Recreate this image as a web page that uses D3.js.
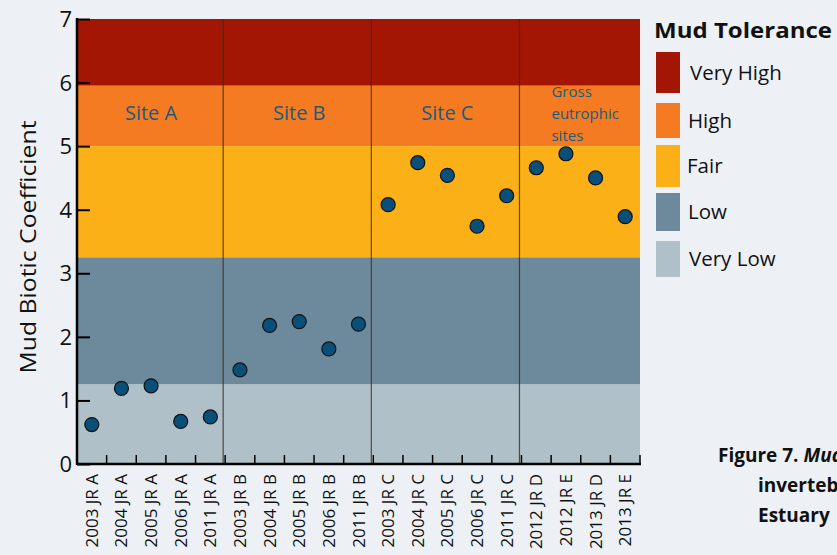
<!DOCTYPE html>
<html>
<head>
<meta charset="utf-8">
<script src="https://cdn.jsdelivr.net/npm/d3@7"></script>
<style>
  body { margin: 0; background: #edf1f5; overflow: hidden; }
  svg { display: block; font-family: "Open Sans", sans-serif; }
</style>
</head>
<body>
<div id="chart"></div>
<script>
const categories = ["2003 JR A", "2004 JR A", "2005 JR A", "2006 JR A", "2011 JR A",
                    "2003 JR B", "2004 JR B", "2005 JR B", "2006 JR B", "2011 JR B",
                    "2003 JR C", "2004 JR C", "2005 JR C", "2006 JR C", "2011 JR C",
                    "2012 JR D", "2012 JR E", "2013 JR D", "2013 JR E"];
const values = [0.62, 1.19, 1.23, 0.67, 0.74,
                1.48, 2.18, 2.24, 1.81, 2.2,
                4.08, 4.74, 4.54, 3.74, 4.22,
                4.66, 4.88, 4.5, 3.89];
const yTicks = [0, 1, 2, 3, 4, 5, 6, 7];
const bandNames = ["Very High", "High", "Fair", "Low", "Very Low"];
const bandLow = [5.95, 5, 3.25, 1.25, 0];
const bandHigh = [7, 5.95, 5, 3.25, 1.25];
const bandColors = ["#a31604", "#f47b22", "#fcb017", "#6d8a9c", "#afc0c8"];
const siteNames = ["Site A", "Site B", "Site C"];
const siteFirst = ["2003 JR A", "2003 JR B", "2003 JR C", "2012 JR D"];

const w = 837, h = 555;
const pLeft = 77, pRight = 640, pTop = 19, pBottom = 464;

const svg = d3.select("#chart").append("svg")
  .attr("width", w).attr("height", h);

const xScale = d3.scaleBand().domain(categories).range([pLeft, pRight]);
const yScale = d3.scaleLinear().domain([0, 7]).range([pBottom, pTop]);

// bands
svg.selectAll("rect.band")
  .data(bandNames)
  .enter()
  .append("rect")
  .attr("class", "band")
  .attr("x", pLeft)
  .attr("width", pRight - pLeft)
  .attr("y", (d, i) => yScale(bandHigh[i]))
  .attr("height", (d, i) => yScale(bandLow[i]) - yScale(bandHigh[i]))
  .attr("fill", (d, i) => bandColors[i]);

// site dividers
svg.selectAll("line.div")
  .data(siteFirst.slice(1))
  .enter()
  .append("line")
  .attr("x1", d => xScale(d) - 2).attr("x2", d => xScale(d) - 2)
  .attr("y1", pTop).attr("y2", pBottom)
  .attr("stroke", "#3a2a20").attr("stroke-opacity", 0.8).attr("stroke-width", 1.2);

// site labels
svg.selectAll("text.site")
  .data(siteNames)
  .enter()
  .append("text")
  .attr("x", (d, i) => (xScale(siteFirst[i]) + xScale(siteFirst[i + 1])) / 2)
  .attr("y", yScale(5.5) + 6)
  .attr("text-anchor", "middle")
  .attr("font-size", 20)
  .attr("fill", "#1d5a7c")
  .text(d => d);

const gross = svg.append("text")
  .attr("y", yScale(5.5) - 17)
  .attr("font-size", 15)
  .attr("fill", "#1d5a7c");
["Gross", "eutrophic", "sites"].forEach((t, i) => {
  gross.append("tspan").attr("x", xScale("2012 JR D") + 30).attr("dy", i ? 22 : 0).text(t);
});

// points
svg.selectAll("circle")
  .data(values)
  .enter()
  .append("circle")
  .attr("cx", (d, i) => xScale(categories[i]) + xScale.bandwidth() / 2)
  .attr("cy", d => yScale(d))
  .attr("r", 7)
  .attr("fill", "#08507a")
  .attr("stroke", "#111")
  .attr("stroke-width", 1.2);

// axes
const yAxis = d3.axisRight(yScale).tickValues(yTicks).tickSize(13).tickFormat("");
const gy = svg.append("g").attr("transform", "translate(" + pLeft + ",0)").call(yAxis);
gy.select(".domain").remove();
gy.selectAll("line").attr("stroke", "#000").attr("stroke-width", 2);
svg.append("line").attr("x1", pLeft).attr("x2", pLeft).attr("y1", pTop - 1).attr("y2", pBottom + 1)
  .attr("stroke", "#000").attr("stroke-width", 2.5);
svg.selectAll("text.ytick")
  .data(yTicks)
  .enter()
  .append("text")
  .attr("x", pLeft - 5)
  .attr("y", d => yScale(d) + 8)
  .attr("text-anchor", "end")
  .attr("font-size", 22)
  .attr("fill", "#111")
  .text(d => d);

const xTickPos = categories.map(c => xScale(c)).concat([pRight]);
svg.selectAll("line.xtick")
  .data(xTickPos)
  .enter()
  .append("line")
  .attr("x1", d => d).attr("x2", d => d)
  .attr("y1", pBottom).attr("y2", pBottom - 9)
  .attr("stroke", "#000").attr("stroke-width", 1.5);
svg.append("line").attr("x1", pLeft).attr("x2", pRight + 1).attr("y1", pBottom).attr("y2", pBottom)
  .attr("stroke", "#000").attr("stroke-width", 2.5);

svg.selectAll("text.xlab")
  .data(categories)
  .enter()
  .append("text")
  .attr("transform", d => "translate(" + (xScale(d) + xScale.bandwidth() / 2 + 6) + "," + (pBottom + 10) + ") rotate(-90)")
  .attr("text-anchor", "end")
  .attr("font-size", 17)
  .attr("fill", "#111")
  .text(d => d);

svg.append("text")
  .attr("transform", "translate(36,247) rotate(-90)")
  .attr("text-anchor", "middle")
  .attr("font-size", 22)
  .attr("textLength", 253)
  .attr("lengthAdjust", "spacingAndGlyphs")
  .attr("fill", "#111")
  .text("Mud Biotic Coefficient");

// legend
svg.append("text")
  .attr("x", 654).attr("y", 38)
  .attr("font-size", 22).attr("font-weight", "bold")
  .attr("textLength", 178)
  .attr("lengthAdjust", "spacingAndGlyphs")
  .attr("fill", "#111")
  .text("Mud Tolerance");
const legTop = [52, 103, 145, 193, 241];
const legH = [41, 35, 42, 38, 36];
const legText = [690, 688, 687, 688, 689];
const lg = svg.selectAll("g.leg").data(bandNames).enter().append("g");
lg.append("rect")
  .attr("x", 656).attr("width", 24)
  .attr("y", (d, i) => legTop[i]).attr("height", (d, i) => legH[i])
  .attr("fill", (d, i) => bandColors[i]);
lg.append("text")
  .attr("x", (d, i) => legText[i])
  .attr("y", (d, i) => legTop[i] + legH[i] / 2 + 7)
  .attr("font-size", 20.5)
  .attr("fill", "#111")
  .text(d => d);

// caption
const cap = svg.append("g").attr("font-size", 19).attr("font-weight", "bold").attr("fill", "#111");
const c1 = cap.append("text").attr("x", 718).attr("y", 462);
c1.append("tspan").text("Figure 7. ");
c1.append("tspan").attr("font-style", "italic").text("Mud Biotic Coefficient");
cap.append("text").attr("x", 758).attr("y", 492).text("invertebrates");
cap.append("text").attr("x", 758).attr("y", 522).text("Estuary");
</script>
</body>
</html>
